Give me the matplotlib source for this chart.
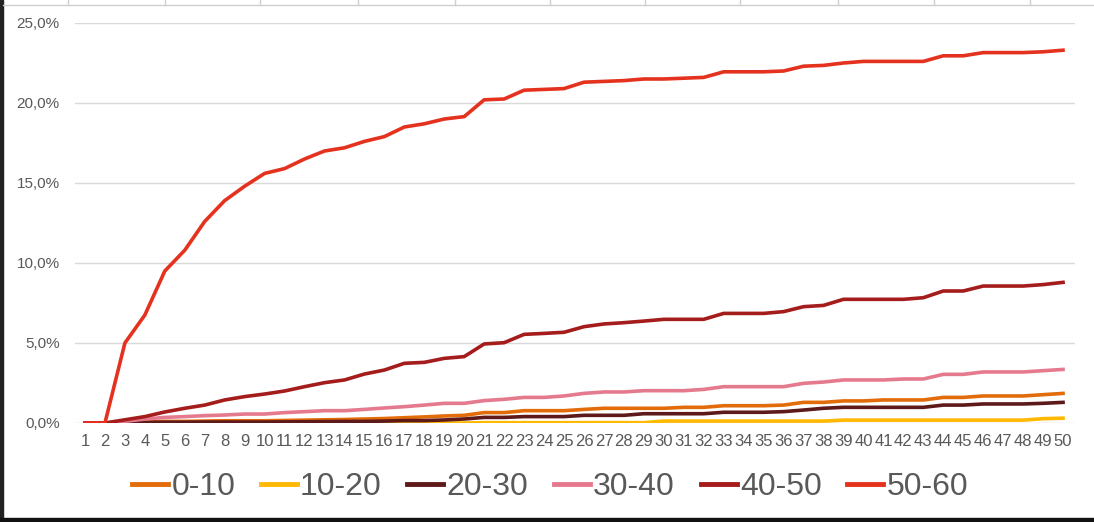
import matplotlib.pyplot as plt
from matplotlib.lines import Line2D
from matplotlib.patches import Rectangle

days = list(range(1, 51))
series_names = ['0-10', '10-20', '20-30', '30-40', '40-50', '50-60']
colors = ['#E36C0A', '#FFB900', '#5E1A1A', '#E57A8E', '#A51C1C', '#E5321E']

s_0_10 = [0, 0, 0.03, 0.06, 0.10, 0.10, 0.12, 0.14, 0.14, 0.14,
          0.16, 0.18, 0.20, 0.22, 0.25, 0.28, 0.33, 0.38, 0.44, 0.48,
          0.65, 0.65, 0.77, 0.77, 0.77, 0.85, 0.92, 0.92, 0.92, 0.92,
          0.98, 0.98, 1.08, 1.08, 1.08, 1.12, 1.29, 1.29, 1.38, 1.38,
          1.44, 1.44, 1.44, 1.60, 1.60, 1.69, 1.69, 1.69, 1.77, 1.85]
s_10_20 = [0, 0, 0, 0, 0, 0, 0, 0, 0, 0,
           0, 0, 0, 0, 0, 0, 0, 0, 0, 0,
           0.02, 0.02, 0.02, 0.02, 0.02, 0.02, 0.02, 0.02, 0.02, 0.12,
           0.12, 0.12, 0.12, 0.12, 0.12, 0.12, 0.12, 0.12, 0.18, 0.18,
           0.18, 0.18, 0.18, 0.18, 0.18, 0.18, 0.18, 0.18, 0.27, 0.30]
s_20_30 = [0, 0, 0.02, 0.04, 0.05, 0.05, 0.06, 0.06, 0.06, 0.06,
           0.07, 0.08, 0.09, 0.10, 0.10, 0.12, 0.15, 0.15, 0.19, 0.25,
           0.35, 0.35, 0.40, 0.40, 0.40, 0.48, 0.48, 0.48, 0.58, 0.58,
           0.58, 0.58, 0.67, 0.67, 0.67, 0.71, 0.81, 0.92, 0.98, 0.98,
           0.98, 0.98, 0.98, 1.12, 1.12, 1.19, 1.19, 1.19, 1.23, 1.29]
s_30_40 = [0, 0, 0.10, 0.25, 0.35, 0.40, 0.46, 0.50, 0.56, 0.56,
           0.65, 0.71, 0.77, 0.77, 0.85, 0.94, 1.02, 1.12, 1.23, 1.23,
           1.40, 1.48, 1.60, 1.60, 1.69, 1.85, 1.94, 1.94, 2.02, 2.02,
           2.02, 2.10, 2.27, 2.27, 2.27, 2.27, 2.48, 2.56, 2.69, 2.69,
           2.69, 2.75, 2.75, 3.04, 3.04, 3.19, 3.19, 3.19, 3.27, 3.35]
s_40_50 = [0, 0, 0.20, 0.40, 0.69, 0.92, 1.12, 1.44, 1.65, 1.81,
           2.00, 2.27, 2.52, 2.69, 3.06, 3.31, 3.73, 3.79, 4.04, 4.15,
           4.94, 5.02, 5.54, 5.60, 5.67, 6.02, 6.19, 6.27, 6.37, 6.48,
           6.48, 6.48, 6.85, 6.85, 6.85, 6.96, 7.27, 7.35, 7.73, 7.73,
           7.73, 7.73, 7.83, 8.25, 8.25, 8.56, 8.56, 8.56, 8.65, 8.79]
s_50_60 = [0, 0, 5.00, 6.75, 9.50, 10.80, 12.60, 13.90, 14.80, 15.60,
           15.90, 16.50, 17.00, 17.20, 17.60, 17.90, 18.50, 18.70, 19.00, 19.15,
           20.20, 20.25, 20.80, 20.85, 20.90, 21.30, 21.35, 21.40, 21.50, 21.50,
           21.55, 21.60, 21.95, 21.95, 21.95, 22.00, 22.30, 22.35, 22.50, 22.60,
           22.60, 22.60, 22.60, 22.95, 22.95, 23.15, 23.15, 23.15, 23.20, 23.30]
series = [s_0_10, s_10_20, s_20_30, s_30_40, s_40_50, s_50_60]

y_ticks = [0, 5, 10, 15, 20, 25]

plt.rcParams['font.family'] = ['Liberation Sans', 'DejaVu Sans']

fig = plt.figure(figsize=(10.94, 5.22), dpi=100)
W, H = 1094, 522

# screenshot frame: dark strips and grey sheet lines
fig.patches.append(Rectangle((0, 0), 3 / W, 1, transform=fig.transFigure, color='#222222'))
fig.patches.append(Rectangle((0, 0), 1, 4 / H, transform=fig.transFigure, color='#111111'))
fig.add_artist(Line2D([3 / W, 1], [1 - 5 / H, 1 - 5 / H], color='#d0d0d0', lw=1))
for px in [68, 165, 260, 358, 455, 550, 645, 740, 838, 934, 1030]:
    fig.add_artist(Line2D([px / W, px / W], [1 - 5 / H, 1], color='#d0d0d0', lw=1))

ax = fig.add_axes([75 / W, (H - 423) / H, 1000 / W, 400 / H])
for name, vals, c in zip(series_names, series, colors):
    ax.plot(days, vals, color=c, lw=2.6, label=name, solid_joinstyle='round')

ax.set_xlim(0.5, 50.6)
ax.set_ylim(0, 25)
ax.set_yticks(y_ticks)
ax.set_yticklabels([f'{v:.1f}%'.replace('.', ',') for v in y_ticks], color='#595959', fontsize=11)
ax.set_xticks(days)
ax.set_xticklabels([str(d) for d in days], color='#595959', fontsize=12)
ax.tick_params(axis='y', length=0, pad=11)
ax.tick_params(axis='x', length=0, pad=8)
ax.grid(axis='y', color='#d9d9d9', lw=1)
ax.set_axisbelow(True)
for sp in ax.spines.values():
    sp.set_visible(False)

leg = fig.legend(loc='center', bbox_to_anchor=(550 / W, 1 - 487 / H), ncol=6, frameon=False,
                 fontsize=23, handlelength=1.13, handletextpad=0.1, columnspacing=0.8)
for t in leg.get_texts():
    t.set_color('#595959')
for h in leg.get_lines():
    h.set_linewidth(3.5)

fig.savefig('out.png', dpi=100)
